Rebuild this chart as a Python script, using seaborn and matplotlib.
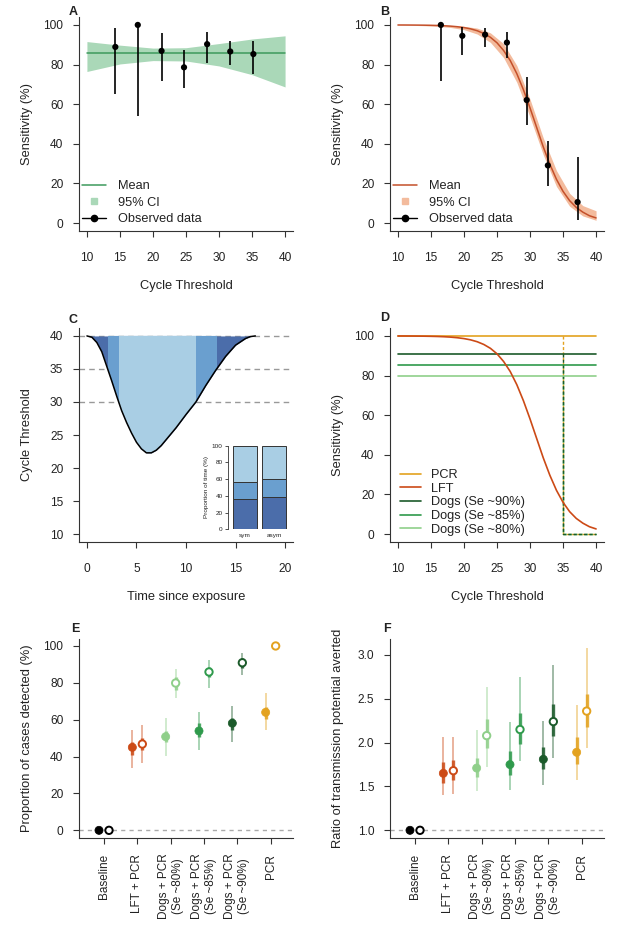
import numpy as np
import pandas as pd
import matplotlib
matplotlib.use("Agg")
import matplotlib.pyplot as plt
import seaborn as sns
from matplotlib.lines import Line2D

# ---------------- data ----------------
# Panel A: dog sensitivity vs Ct
a_mean_x = [10, 40]
a_mean_y = [85.8, 85.8]
a_ci_x = [10, 15, 20, 25, 30, 35, 40]
a_ci_lo = [76.5, 80.3, 82.0, 81.8, 79.3, 74.9, 68.7]
a_ci_hi = [91.6, 89.8, 88.3, 88.5, 90.6, 92.9, 94.5]
a_obs_x = [14.3, 17.7, 21.3, 24.7, 28.2, 31.7, 35.2]
a_obs_y = [88.9, 100.0, 86.9, 78.6, 90.3, 86.6, 85.3]
a_obs_lo = [65.2, 53.9, 71.9, 68.2, 80.7, 79.6, 75.2]
a_obs_hi = [98.7, 100.0, 95.8, 87.4, 96.3, 92.1, 92.1]

# Panel B: LFT sensitivity vs Ct
b_mean_x = list(range(10, 41))
b_mean_y = [99.97, 99.96, 99.94, 99.91, 99.87, 99.81, 99.72, 99.59, 99.39, 99.09,
            98.66, 98.02, 97.07, 95.69, 93.75, 90.98, 87.10, 82.05, 75.40, 67.3,
            58.1, 48.3, 38.5, 29.7, 22.1, 16.0, 11.3, 7.9, 5.5, 3.7, 2.6]
b_ci_x = [10, 12, 14, 16, 18, 20, 22, 24, 26, 28, 30, 32, 34, 36, 38, 40]
b_ci_lo = [99.9, 99.8, 99.6, 99.3, 98.7, 97.6, 95.4, 91.2, 83.5, 71.0, 53.5, 34.5, 18.5, 8.5, 3.6, 1.4]
b_ci_hi = [100.0, 100.0, 99.95, 99.9, 99.7, 99.3, 98.4, 96.0, 90.5, 79.5, 62.5, 43.0, 26.5, 15.0, 8.8, 6.2]
b_obs_x = [16.5, 19.75, 23.2, 26.5, 29.5, 32.7, 37.2]
b_obs_y = [100.0, 94.5, 95.1, 91.1, 62.1, 29.1, 10.6]
b_obs_lo = [71.5, 84.9, 89.1, 83.3, 49.4, 18.8, 1.5]
b_obs_hi = [100.0, 98.8, 98.3, 96.3, 73.5, 41.4, 33.5]

# Panel C: Ct trajectory
c_t = [0, 0.5, 1, 1.5, 2, 2.5, 3, 3.5, 4, 4.5, 5, 5.5, 6, 6.5, 7, 7.5, 8, 9, 10,
       11, 12, 13, 14, 15, 16, 16.5, 17]
c_ct = [40, 39.8, 39.0, 37.6, 35.4, 33.2, 30.9, 28.7, 26.9, 25.3, 23.9, 22.9, 22.3,
        22.3, 22.7, 23.4, 24.3, 26.1, 28.1, 30.0, 32.5, 34.8, 36.9, 38.6, 39.6, 39.9, 40]
c_thresholds = [40, 35, 30]
c_cross35 = (2.08, 13.1)
c_cross30 = (3.2, 11.0)
c_groups = ["sym", "asym"]
c_prop_dark = [36.2, 38.3]
c_prop_mid = [20.5, 21.6]
c_prop_light = [43.3, 40.1]

# Panel D: sensitivity assumptions
d_pcr = 100.0
d_dogs = {"Dogs (Se ~90%)": 90.8, "Dogs (Se ~85%)": 85.4, "Dogs (Se ~80%)": 80.0}
d_cutoff = 35
d_xmax = 40

# Panels E and F
cats = ["Baseline", "LFT + PCR", "Dogs + PCR\n(Se ~80%)", "Dogs + PCR\n(Se ~85%)",
        "Dogs + PCR\n(Se ~90%)", "PCR"]
e_f_mid = [0, 45.0, 50.8, 53.9, 58.1, 64.0]
e_f_lo50 = [0, 40.9, 47.7, 50.8, 54.4, 60.4]
e_f_hi50 = [0, 48.1, 54.0, 58.1, 61.1, 67.1]
e_f_lo95 = [0, 33.6, 40.5, 43.6, 48.1, 54.4]
e_f_hi95 = [0, 54.4, 61.1, 64.4, 67.6, 74.3]
e_o_mid = [0, 46.8, 79.9, 85.9, 90.9, 100.0]
e_o_lo50 = [0, 43.6, 76.1, 83.0, 87.9, 100.0]
e_o_hi50 = [0, 49.9, 83.3, 88.8, 93.3, 100.0]
e_o_lo95 = [0, 36.4, 71.6, 77.4, 84.3, 100.0]
e_o_hi95 = [0, 57.1, 87.3, 92.4, 96.0, 100.0]

f_f_mid = [1.0, 1.65, 1.71, 1.75, 1.81, 1.89]
f_f_lo50 = [1.0, 1.54, 1.61, 1.63, 1.70, 1.76]
f_f_hi50 = [1.0, 1.78, 1.83, 1.90, 1.95, 2.06]
f_f_lo95 = [1.0, 1.40, 1.45, 1.46, 1.52, 1.57]
f_f_hi95 = [1.0, 2.07, 2.145, 2.24, 2.25, 2.43]
f_o_mid = [1.0, 1.68, 2.08, 2.15, 2.24, 2.36]
f_o_lo50 = [1.0, 1.57, 1.94, 1.99, 2.08, 2.18]
f_o_hi50 = [1.0, 1.80, 2.27, 2.34, 2.44, 2.56]
f_o_lo95 = [1.0, 1.41, 1.72, 1.79, 1.83, 1.94]
f_o_hi95 = [1.0, 2.06, 2.63, 2.75, 2.89, 3.08]

# ---------------- style ----------------
C_BASE = "#000000"
C_LFT = "#cc4a16"
C_D80 = "#8fcf8a"
C_D85 = "#2f9a4c"
C_D90 = "#1b5a2a"
C_PCR = "#e3a21f"
cat_colors = [C_BASE, C_LFT, C_D80, C_D85, C_D90, C_PCR]
C_DARK, C_MID, C_LIGHT = "#4b6daa", "#6a9fcf", "#a9cee4"

sns.set_theme(style="ticks")
plt.rcParams["font.family"] = ["Liberation Sans", "DejaVu Sans"]
plt.rcParams.update({
    "font.size": 9, "axes.labelsize": 9.3, "xtick.labelsize": 8.6, "ytick.labelsize": 8.6,
    "axes.linewidth": 0.8, "xtick.major.width": 0.8, "ytick.major.width": 0.8,
    "xtick.major.size": 4.5, "ytick.major.size": 4.5,
    "axes.edgecolor": "#333333", "xtick.color": "#333333", "ytick.color": "#333333",
    "xtick.labelcolor": "#222222", "ytick.labelcolor": "#222222",
    "text.color": "#222222", "axes.labelcolor": "#222222",
    "xtick.major.pad": 10.3, "ytick.major.pad": 6.8,
})

W, H = 622, 933
fig = plt.figure(figsize=(W / 100, H / 100), dpi=100)


def add_axes(l, t, r, b):
    return fig.add_axes([l / W, 1 - b / H, (r - l) / W, (b - t) / H])


def style(ax, xlabel=None, ylabel=None, ylab_off=52, xlab_off=55):
    ax.spines["top"].set_visible(False)
    ax.spines["right"].set_visible(False)
    ax.set_facecolor("none")
    bb = ax.get_position()
    wpx, hpx = bb.width * W, bb.height * H
    if ylabel:
        ax.set_ylabel(ylabel, va="center")
        ax.yaxis.set_label_coords(-ylab_off / wpx, 0.5)
    if xlabel:
        ax.set_xlabel(xlabel, va="center")
        ax.xaxis.set_label_coords(0.5, -xlab_off / hpx)


def letter(x, y, s):
    fig.text(x / W, 1 - y / H, s, fontsize=9, fontweight="bold", ha="center", va="center")


def legend(ax, handles, labels, x, y, spacing, hl, htp):
    ax.legend(handles, labels, loc="upper left", bbox_to_anchor=(x, y), frameon=False,
              borderaxespad=0, borderpad=0, handlelength=hl, handletextpad=htp,
              labelspacing=spacing, fontsize=9.2)


# ---------------- Panel A ----------------
axA = add_axes(79, 17, 293, 231)
axA.fill_between(a_ci_x, a_ci_lo, a_ci_hi, color="#aad8b8", lw=0, zorder=1)
sns.lineplot(x=a_mean_x, y=a_mean_y, ax=axA, color="#3d9a5c", lw=1.1, zorder=2)
axA.vlines(a_obs_x, a_obs_lo, a_obs_hi, color="black", lw=1.2, zorder=3)
sns.scatterplot(x=a_obs_x, y=a_obs_y, ax=axA, color="black", s=20, edgecolor="none", zorder=4)
axA.set_xlim(8.8, 41.2)
axA.set_ylim(-4, 104)
axA.set_xticks([10, 15, 20, 25, 30, 35, 40])
axA.set_yticks([0, 20, 40, 60, 80, 100])
style(axA, "Cycle Threshold", "Sensitivity (%)")
legend(axA,
       [Line2D([], [], color="#3d9a5c", lw=1.1),
        Line2D([], [], color="#aad8b8", marker="s", ls="none", markersize=5),
        Line2D([], [], color="black", lw=1.0, marker="o", markersize=4.5)],
       ["Mean", "95% CI", "Observed data"], 0.014, 0.238, 0.36, 1.88, 0.94)
letter(73, 12, "A")

# ---------------- Panel B ----------------
axB = add_axes(390, 17, 604, 231)
axB.fill_between(b_ci_x, b_ci_lo, b_ci_hi, color="#f3bb9d", lw=0, zorder=1)
sns.lineplot(x=b_mean_x, y=b_mean_y, ax=axB, color="#c4502a", lw=1.1, zorder=2)
axB.vlines(b_obs_x, b_obs_lo, b_obs_hi, color="black", lw=1.2, zorder=3)
sns.scatterplot(x=b_obs_x, y=b_obs_y, ax=axB, color="black", s=20, edgecolor="none", zorder=4)
axB.set_xlim(8.8, 41.2)
axB.set_ylim(-4, 104)
axB.set_xticks([10, 15, 20, 25, 30, 35, 40])
axB.set_yticks([0, 20, 40, 60, 80, 100])
style(axB, "Cycle Threshold", "Sensitivity (%)")
legend(axB,
       [Line2D([], [], color="#c4502a", lw=1.1),
        Line2D([], [], color="#f3bb9d", marker="s", ls="none", markersize=5),
        Line2D([], [], color="black", lw=1.0, marker="o", markersize=4.5)],
       ["Mean", "95% CI", "Observed data"], 0.014, 0.238, 0.36, 1.88, 0.94)
letter(385, 12, "B")

# ---------------- Panel C ----------------
axC = add_axes(79, 328, 293, 542)
for th in c_thresholds:
    axC.axhline(th, color="#999999", lw=1.0, ls=(0, (4, 3)), zorder=0)
fill = axC.fill_between(c_t, c_ct, 40, color=C_DARK, lw=0, zorder=1)
clip_path = fill.get_paths()[0]
span_mid = axC.axvspan(c_cross35[0], c_cross35[1], color=C_MID, lw=0, zorder=1.1)
span_mid.set_clip_path(clip_path, axC.transData)
span_light = axC.axvspan(c_cross30[0], c_cross30[1], color=C_LIGHT, lw=0, zorder=1.2)
span_light.set_clip_path(clip_path, axC.transData)
sns.lineplot(x=c_t, y=c_ct, ax=axC, color="black", lw=1.1, zorder=3)
axC.set_xlim(-0.8, 20.8)
axC.set_ylim(8.8, 41.2)
axC.set_xticks([0, 5, 10, 15, 20])
axC.set_yticks([10, 15, 20, 25, 30, 35, 40])
style(axC, "Time since exposure", "Cycle Threshold")
letter(73, 320, "C")

# inset
axI = add_axes(227.7, 445.7, 291.1, 529.3)
xpos = [0.7, 1.9]
edge = dict(edgecolor="#333333", linewidth=0.7, width=1.0)
axI.bar(xpos, c_prop_dark, color=C_DARK, **edge)
axI.bar(xpos, c_prop_mid, bottom=c_prop_dark, color=C_MID, **edge)
axI.bar(xpos, c_prop_light, bottom=np.add(c_prop_dark, c_prop_mid), color=C_LIGHT, **edge)
axI.set_xlim(0, 2.6)
axI.set_ylim(0, 100)
axI.set_facecolor("none")
for s in ["top", "right", "bottom"]:
    axI.spines[s].set_visible(False)
axI.spines["left"].set_linewidth(0.6)
axI.set_yticks([0, 20, 40, 60, 80, 100])
axI.tick_params(axis="y", labelsize=4.6, length=2, width=0.6, pad=1.5)
axI.set_xticks(xpos)
axI.set_xticklabels(c_groups)
axI.tick_params(axis="x", labelsize=4.6, length=0, pad=2.5)
axI.set_ylabel("Proportion of time (%)", fontsize=4.6, labelpad=2)

# ---------------- Panel D ----------------
axD = add_axes(390, 328, 604, 542)
dash = (0, (2.2, 1.6))
axD.plot([d_cutoff, d_cutoff, d_xmax], [d_pcr, 0, 0], color=C_PCR, lw=1.0, ls=dash, zorder=2)
for lab, col in [("Dogs (Se ~80%)", C_D80), ("Dogs (Se ~85%)", C_D85), ("Dogs (Se ~90%)", C_D90)]:
    axD.plot([d_cutoff, d_cutoff, d_xmax], [d_dogs[lab], 0, 0], color=col, lw=1.0, ls=dash, zorder=2)
sns.lineplot(x=[10, 40], y=[d_pcr, d_pcr], ax=axD, color=C_PCR, lw=1.2, zorder=3)
for lab, col in [("Dogs (Se ~90%)", C_D90), ("Dogs (Se ~85%)", C_D85), ("Dogs (Se ~80%)", C_D80)]:
    sns.lineplot(x=[10, 40], y=[d_dogs[lab]] * 2, ax=axD, color=col, lw=1.2, zorder=3)
sns.lineplot(x=b_mean_x, y=b_mean_y, ax=axD, color=C_LFT, lw=1.2, zorder=4)
axD.set_xlim(8.8, 41.2)
axD.set_ylim(-4, 104)
axD.set_xticks([10, 15, 20, 25, 30, 35, 40])
axD.set_yticks([0, 20, 40, 60, 80, 100])
style(axD, "Cycle Threshold", "Sensitivity (%)")
legend(axD, [Line2D([], [], color=c, lw=1.2) for c in [C_PCR, C_LFT, C_D90, C_D85, C_D80]],
       ["PCR", "LFT", "Dogs (Se ~90%)", "Dogs (Se ~85%)", "Dogs (Se ~80%)"],
       0.047, 0.34, 0.125, 1.64, 0.78)
letter(385, 318, "D")


# ---------------- Panels E / F ----------------
def interval_panel(ax, fm, fl50, fh50, fl95, fh95, om, ol50, oh50, ol95, oh95, base):
    pos = np.arange(1, len(cats) + 1)
    ax.axhline(base, color="#aaaaaa", lw=1.0, ls=(0, (3, 3)), zorder=0)
    for i, col in enumerate(cat_colors):
        for dx, lo95, hi95, lo50, hi50 in [(-0.15, fl95, fh95, fl50, fh50),
                                          (0.15, ol95, oh95, ol50, oh50)]:
            x = pos[i] + dx
            ax.vlines(x, lo95[i], hi95[i], color=col, lw=1.4, alpha=0.42, zorder=1)
            ax.vlines(x, lo50[i], hi50[i], color=col, lw=2.4, alpha=0.85, zorder=2)
    df_f = pd.DataFrame({"x": pos - 0.15, "y": fm})
    df_o = pd.DataFrame({"x": pos + 0.15, "y": om})
    sns.scatterplot(data=df_f, x="x", y="y", ax=ax, c=cat_colors, s=34,
                    edgecolor=cat_colors, linewidth=0.5, zorder=4)
    sns.scatterplot(data=df_o, x="x", y="y", ax=ax, color="white", s=28,
                    edgecolor=cat_colors, linewidth=1.4, zorder=4)
    ax.set_xlim(0.25, 6.67)
    ax.set_xticks(pos)
    ax.set_xticklabels(cats, rotation=90, ha="center", va="top", multialignment="center",
                       fontsize=8.5)
    ax.tick_params(axis="x", pad=7)
    ax.set_xlabel("")


axE = add_axes(79, 638.6, 293, 837.7)
interval_panel(axE, e_f_mid, e_f_lo50, e_f_hi50, e_f_lo95, e_f_hi95,
               e_o_mid, e_o_lo50, e_o_hi50, e_o_lo95, e_o_hi95, 0)
axE.set_ylim(-4, 104)
axE.set_yticks([0, 20, 40, 60, 80, 100])
style(axE, None, "Proportion of cases detected (%)")
letter(75, 629, "E")

axF = add_axes(390, 638.6, 604, 837.7)
interval_panel(axF, f_f_mid, f_f_lo50, f_f_hi50, f_f_lo95, f_f_hi95,
               f_o_mid, f_o_lo50, f_o_hi50, f_o_lo95, f_o_hi95, 1.0)
axF.set_ylim(0.9156, 3.187)
axF.set_yticks([1.0, 1.5, 2.0, 2.5, 3.0])
axF.set_yticklabels(["1.0", "1.5", "2.0", "2.5", "3.0"])
style(axF, None, "Ratio of transmission potential averted")
letter(387, 629, "F")

fig.savefig("out.png", dpi=100)
